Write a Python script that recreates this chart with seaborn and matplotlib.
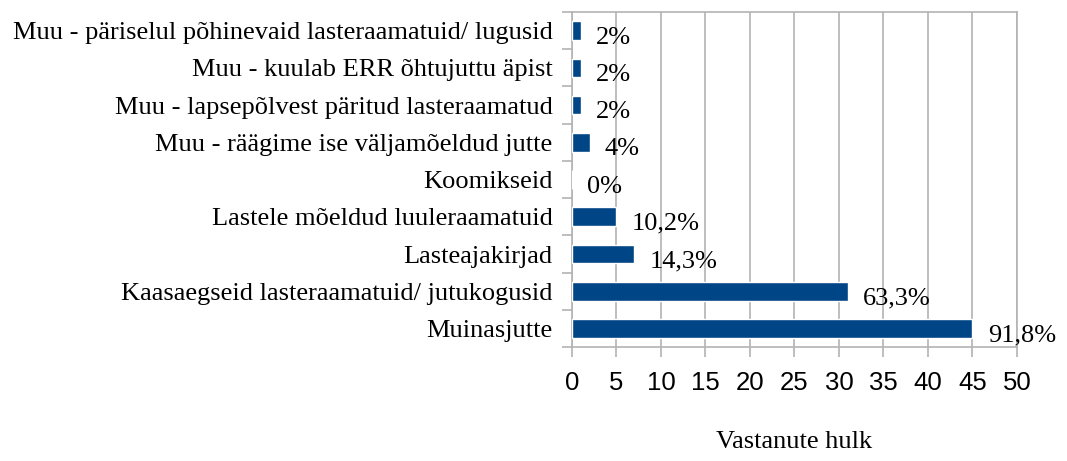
import matplotlib
matplotlib.use("Agg")
import matplotlib.pyplot as plt
import seaborn as sns
import pandas as pd
import numpy as np

# andmed (ülevalt alla)
categories = [
    "Muu - päriselul põhinevaid lasteraamatuid/ lugusid",
    "Muu - kuulab ERR õhtujuttu äpist",
    "Muu - lapsepõlvest päritud lasteraamatud",
    "Muu - räägime ise väljamõeldud jutte",
    "Koomikseid",
    "Lastele mõeldud luuleraamatuid",
    "Lasteajakirjad",
    "Kaasaegseid lasteraamatuid/ jutukogusid",
    "Muinasjutte",
]
counts = [1, 1, 1, 2, 0, 5, 7, 31, 45]
pct_labels = ["2%", "2%", "2%", "4%", "0%", "10,2%", "14,3%", "63,3%", "91,8%"]
x_ticks = [0, 5, 10, 15, 20, 25, 30, 35, 40, 45, 50]

df = pd.DataFrame({"kategooria": categories, "hulk": counts})

sns.set_style("white")
plt.rcParams["font.family"] = ["Liberation Serif", "DejaVu Serif"]
plt.rcParams["text.color"] = "black"
plt.rcParams["axes.labelcolor"] = "black"
plt.rcParams["xtick.labelcolor"] = "black"
plt.rcParams["ytick.labelcolor"] = "black"

fig = plt.figure(figsize=(10.67, 4.61), dpi=100)
ax = fig.add_axes([0.536, 0.247, 0.417, 0.727])

sns.barplot(data=df, x="hulk", y="kategooria", orient="h", color="#004586",
            width=0.5, saturation=1, ax=ax, zorder=3)

grid_col = "#b3b3b3"
ax.set_xlim(0, 50)
ax.set_ylim(len(categories) - 0.5, -0.5)
ax.set_xticks(x_ticks)
ax.set_xticklabels([str(t) for t in x_ticks], family="Liberation Sans", fontsize=18.5, color="black")
ax.xaxis.grid(True, color=grid_col, linewidth=1.2, zorder=0)
ax.set_axisbelow(True)

# kategooria piiridel tikid
ax.set_yticks(np.arange(len(categories)))
ax.set_yticklabels(categories, fontsize=19, color="black")
ax.set_yticks(np.arange(len(categories) + 1) - 0.5, minor=True)
ax.tick_params(axis="y", which="major", length=0, pad=14)
ax.tick_params(axis="y", which="minor", length=7, color=grid_col, width=1.2, left=True)
ax.tick_params(axis="x", which="major", length=7, color=grid_col, width=1.2, pad=10, bottom=True)

for s in ax.spines.values():
    s.set_color(grid_col)
    s.set_linewidth(1.2)

ax.set_ylabel("")
ax.set_xlabel("Vastanute hulk", fontsize=19, labelpad=26, color="black")

for i, (v, lab) in enumerate(zip(counts, pct_labels)):
    ax.annotate(lab, xy=(v, i), xytext=(11, -5), textcoords="offset points",
                ha="left", va="center", fontsize=19, color="black",
                annotation_clip=False)

fig.savefig("out.png", dpi=100)
